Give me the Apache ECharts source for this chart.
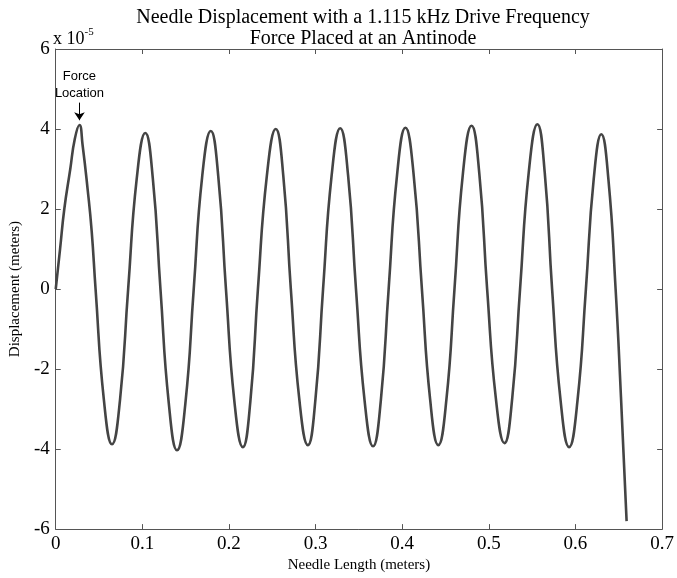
<!DOCTYPE html>
<html>
<head>
<meta charset="utf-8">
<script src="https://cdn.jsdelivr.net/npm/echarts@6/dist/echarts.min.js"></script>
<style>
html,body{margin:0;padding:0;background:#fff;}
#chart{width:677px;height:578px;}
</style>
</head>
<body>
<div id="chart"></div>
<script>
// Needle length positions (meters)
const needleLength = [
  0, 0.005, 0.0099, 0.0168, 0.022, 0.0274, 0.031, 0.0368, 0.0415, 0.046,
  0.0555, 0.065, 0.0743, 0.0836,
  0.0935, 0.1034, 0.1121, 0.1209,
  0.1305, 0.140, 0.1497, 0.1593,
  0.169, 0.179, 0.1877, 0.1965,
  0.2062, 0.216, 0.2247, 0.2334,
  0.2437, 0.254, 0.2627, 0.2714,
  0.2812, 0.2911, 0.2998, 0.3086,
  0.3185, 0.3284, 0.3375, 0.3466,
  0.3565, 0.3663, 0.3753, 0.3843,
  0.394, 0.4037, 0.4132, 0.4227,
  0.4322, 0.4416, 0.451, 0.4603,
  0.470, 0.480, 0.489, 0.498,
  0.508, 0.518, 0.527, 0.536,
  0.546, 0.556, 0.5645, 0.573,
  0.5828, 0.5926, 0.6023, 0.612,
  0.621, 0.6298, 0.638, 0.6463,
  0.6525, 0.659
];
// Displacement in units of 1e-5 meters
const displacement = [
  0, 1.0, 2.0, 3.0, 3.75, 4.1, 3.6, 2.5, 1.45, 0,
  -2.75, -3.88, -2.75, 0,
  2.76, 3.9, 2.76, 0,
  -2.85, -4.03, -2.85, 0,
  2.8, 3.95, 2.8, 0,
  -2.8, -3.95, -2.8, 0,
  2.83, 4.0, 2.83, 0,
  -2.76, -3.9, -2.76, 0,
  2.84, 4.02, 2.84, 0,
  -2.78, -3.93, -2.78, 0,
  2.85, 4.03, 2.85, 0,
  -2.76, -3.9, -2.76, 0,
  2.88, 4.08, 2.88, 0,
  -2.72, -3.85, -2.72, 0,
  2.91, 4.12, 2.91, 0,
  -2.79, -3.95, -2.79, 0,
  2.74, 3.87, 2.74, 0,
  -2.7, -5.8
];
const titleLines = ['Needle Displacement with a 1.115 kHz Drive Frequency', 'Force Placed at an Antinode'];
const xAxisName = 'Needle Length (meters)';
const yAxisName = 'Displacement (meters)';
const annotationText = 'Force\nLocation';
const forceLocation = [0.0274, 4.1];

const seriesData = needleLength.map((x, i) => [x, displacement[i]]);
const serif = 'Liberation Serif';
const frameColor = '#555';

const chart = echarts.init(document.getElementById('chart'), null, {renderer: 'canvas'});
const commonAxisLine = {show: true, onZero: false, lineStyle: {color: frameColor, width: 1}};
const commonTick = {show: true, inside: true, length: 5, lineStyle: {color: frameColor}};
chart.setOption({
  backgroundColor: '#fff',
  animation: false,
  title: {
    text: titleLines.join('\n'),
    left: 358, top: 2, textAlign: 'center',
    textStyle: {fontFamily: serif, fontSize: 20, fontWeight: 'normal', color: '#000', lineHeight: 21}
  },
  grid: {left: 52, right: 11, top: 49, bottom: 42, containLabel: false},
  graphic: [{
    type: 'text', left: 53, top: 27,
    style: {
      text: '{a|x 10}{b|-5}',
      rich: {
        a: {fontFamily: serif, fontSize: 18, fill: '#000', verticalAlign: 'bottom'},
        b: {fontFamily: serif, fontSize: 11, fill: '#000', verticalAlign: 'top', padding: [0, 0, 10, 0]}
      }
    }
  }],
  xAxis: [{
    type: 'value', min: 0, max: 0.7, interval: 0.1, position: 'bottom',
    name: xAxisName, nameLocation: 'middle', nameGap: 20,
    nameTextStyle: {fontFamily: serif, fontSize: 15, color: '#000'},
    axisLine: commonAxisLine, axisTick: commonTick,
    axisLabel: {fontFamily: serif, fontSize: 19, color: '#000', margin: 5},
    splitLine: {show: false}
  }, {
    type: 'value', min: 0, max: 0.7, interval: 0.1, position: 'top',
    axisLine: commonAxisLine, axisTick: commonTick, axisLabel: {show: false}, splitLine: {show: false}
  }],
  yAxis: [{
    type: 'value', min: -6, max: 6, interval: 2, position: 'left',
    name: yAxisName, nameLocation: 'middle', nameGap: 27, nameRotate: 90,
    nameTextStyle: {fontFamily: serif, fontSize: 15, color: '#000'},
    axisLine: commonAxisLine, axisTick: commonTick,
    axisLabel: {fontFamily: serif, fontSize: 19, color: '#000', margin: 6},
    splitLine: {show: false}
  }, {
    type: 'value', min: -6, max: 6, interval: 2, position: 'right',
    axisLine: commonAxisLine, axisTick: commonTick, axisLabel: {show: false}, splitLine: {show: false}
  }],
  series: [{
    type: 'line', xAxisIndex: 0, yAxisIndex: 0,
    data: seriesData, smooth: 0.5, showSymbol: false, symbol: 'none',
    lineStyle: {color: '#444', width: 2.6},
    markLine: {
      silent: true, symbol: ['none', 'arrow'], symbolSize: 8,
      lineStyle: {color: '#000', width: 1, type: 'solid'},
      label: {
        show: true, position: 'start', formatter: annotationText,
        fontFamily: 'Liberation Sans', fontSize: 13, color: '#000', lineHeight: 17, distance: 1
      },
      data: [[{coord: [forceLocation[0], 4.66]}, {coord: [forceLocation[0], 4.22]}]]
    }
  }]
});
</script>
</body>
</html>
